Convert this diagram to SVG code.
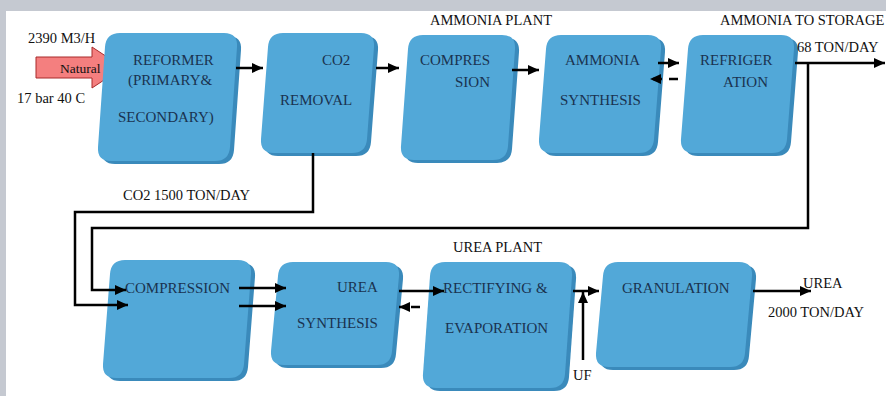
<svg xmlns="http://www.w3.org/2000/svg" width="886" height="396" viewBox="0 0 886 396">
<style>
.side{fill:#3a8abb}
.face{fill:#52a8d8}
.nt{font-family:"Liberation Serif","Times New Roman",serif;font-size:15px;fill:#1a3350}
.lb{font-family:"Liberation Serif","Times New Roman",serif;font-size:14.5px;fill:#111}
.ln{fill:none;stroke:#000;stroke-width:2.5}
.ar{marker-end:url(#ah)}
.dash{stroke-dasharray:9 7}
</style>
<defs>
<marker id="ah" markerUnits="userSpaceOnUse" markerWidth="12" markerHeight="12" refX="11" refY="6" orient="auto">
<path d="M0,1 L11,6 L0,11 Z" fill="#000"/>
</marker>
</defs>
<rect x="0" y="0" width="886" height="396" fill="#c5c9d1"/>
<rect x="6" y="11" width="880" height="385" fill="#fff"/>

<g id="natural">
<polygon points="36,57 92,57 92,47 123,67.5 92,88 92,78 36,78" fill="#f47f7f" stroke="#a82a2a" stroke-width="1"/>
<text class="lb" x="60" y="73" style="font-size:13.5px">Natural</text>
</g>

<g id="reformer">
<path class="side" transform="translate(4,3)" d="M120,33 H224 Q238,33 237,47 L230,147 Q229,161 215,161 H111 Q97,161 98,147 L105,47 Q106,33 120,33 Z"/>
<path class="face" d="M120,33 H224 Q238,33 237,47 L230,147 Q229,161 215,161 H111 Q97,161 98,147 L105,47 Q106,33 120,33 Z"/>
<text class="nt" x="133" y="65">REFORMER</text>
<text class="nt" x="128" y="85">(PRIMARY&amp;</text>
<text class="nt" x="118" y="122">SECONDARY)</text>
</g>

<g id="co2removal">
<path class="side" transform="translate(4,3)" d="M283,33 H361 Q375,33 374,47 L367,139 Q366,153 352,153 H274 Q260,153 261,139 L268,47 Q269,33 283,33 Z"/>
<path class="face" d="M283,33 H361 Q375,33 374,47 L367,139 Q366,153 352,153 H274 Q260,153 261,139 L268,47 Q269,33 283,33 Z"/>
<text class="nt" x="322" y="65">CO2</text>
<text class="nt" x="280" y="105">REMOVAL</text>
</g>

<g id="compression1">
<path class="side" transform="translate(4,3)" d="M423,35 H502 Q516,35 515,49 L508,146 Q507,160 493,160 H414 Q400,160 401,146 L408,49 Q409,35 423,35 Z"/>
<path class="face" d="M423,35 H502 Q516,35 515,49 L508,146 Q507,160 493,160 H414 Q400,160 401,146 L408,49 Q409,35 423,35 Z"/>
<text class="nt" x="420" y="65">COMPRES</text>
<text class="nt" x="455" y="87">SION</text>
</g>

<g id="ammoniasynthesis">
<path class="side" transform="translate(4,3)" d="M561,35 H648 Q662,35 661,49 L654,139 Q653,153 639,153 H552 Q538,153 539,139 L546,49 Q547,35 561,35 Z"/>
<path class="face" d="M561,35 H648 Q662,35 661,49 L654,139 Q653,153 639,153 H552 Q538,153 539,139 L546,49 Q547,35 561,35 Z"/>
<text class="nt" x="565" y="65">AMMONIA</text>
<text class="nt" x="560" y="105">SYNTHESIS</text>
</g>

<g id="refrigeration">
<path class="side" transform="translate(4,3)" d="M703,35 H781 Q795,35 794,49 L787,139 Q786,153 772,153 H694 Q680,153 681,139 L688,49 Q689,35 703,35 Z"/>
<path class="face" d="M703,35 H781 Q795,35 794,49 L787,139 Q786,153 772,153 H694 Q680,153 681,139 L688,49 Q689,35 703,35 Z"/>
<text class="nt" x="700" y="65">REFRIGER</text>
<text class="nt" x="723" y="87">ATION</text>
</g>

<g id="compression2">
<path class="side" transform="translate(4,3)" d="M125,260 H238 Q252,260 251,274 L244,364 Q243,378 229,378 H116 Q102,378 103,364 L110,274 Q111,260 125,260 Z"/>
<path class="face" d="M125,260 H238 Q252,260 251,274 L244,364 Q243,378 229,378 H116 Q102,378 103,364 L110,274 Q111,260 125,260 Z"/>
<text class="nt" x="125" y="293">COMPRESSION</text>
</g>

<g id="ureasynthesis">
<path class="side" transform="translate(4,3)" d="M293,262 H386 Q400,262 399,276 L392,351 Q391,365 377,365 H284 Q270,365 271,351 L278,276 Q279,262 293,262 Z"/>
<path class="face" d="M293,262 H386 Q400,262 399,276 L392,351 Q391,365 377,365 H284 Q270,365 271,351 L278,276 Q279,262 293,262 Z"/>
<text class="nt" x="337" y="292">UREA</text>
<text class="nt" x="297" y="328">SYNTHESIS</text>
</g>

<g id="rectifying">
<path class="side" transform="translate(4,3)" d="M445,262 H559 Q573,262 572,276 L565,374 Q564,388 550,388 H436 Q422,388 423,374 L430,276 Q431,262 445,262 Z"/>
<path class="face" d="M445,262 H559 Q573,262 572,276 L565,374 Q564,388 550,388 H436 Q422,388 423,374 L430,276 Q431,262 445,262 Z"/>
<text class="nt" x="443" y="293">RECTIFYING &amp;</text>
<text class="nt" x="445" y="333">EVAPORATION</text>
</g>

<g id="granulation">
<path class="side" transform="translate(4,3)" d="M618,262 H739 Q753,262 752,276 L745,353 Q744,367 730,367 H609 Q595,367 596,353 L603,276 Q604,262 618,262 Z"/>
<path class="face" d="M618,262 H739 Q753,262 752,276 L745,353 Q744,367 730,367 H609 Q595,367 596,353 L603,276 Q604,262 618,262 Z"/>
<text class="nt" x="622" y="293">GRANULATION</text>
</g>

<g id="connectors">
<path class="ln ar" d="M236,68 H263"/>
<path class="ln ar" d="M376,68 H399"/>
<path class="ln ar" d="M512,70 H539"/>
<path class="ln ar" d="M658,63 H679"/>
<path class="ln ar dash" d="M678,79 H650"/>
<path class="ln ar" d="M795,63 H885"/>
<path class="ln ar" d="M808,63 V228 H92 V290 H126"/>
<path class="ln ar" d="M313,153 V212 H75 V305 H128"/>
<path class="ln ar" d="M239,288 H286"/>
<path class="ln ar" d="M239,306 H286"/>
<path class="ln ar" d="M399,291 H444"/>
<path class="ln ar dash" d="M420,307 H399"/>
<path class="ln ar" d="M573,291 H599"/>
<path class="ln ar" d="M583,360 V292"/>
<path class="ln ar" d="M753,291 H811"/>
</g>

<g id="labels">
<text class="lb" x="28" y="43">2390 M3/H</text>
<text class="lb" x="17" y="103">17 bar 40 C</text>
<text class="lb" x="123" y="200">CO2 1500 TON/DAY</text>
<text class="lb" x="430" y="25">AMMONIA PLANT</text>
<text class="lb" x="720" y="25">AMMONIA TO STORAGE</text>
<text class="lb" x="797" y="52">68 TON/DAY</text>
<text class="lb" x="453" y="252">UREA PLANT</text>
<text class="lb" x="803" y="288">UREA</text>
<text class="lb" x="768" y="317">2000 TON/DAY</text>
<text class="lb" x="573" y="380">UF</text>
</g>
</svg>
